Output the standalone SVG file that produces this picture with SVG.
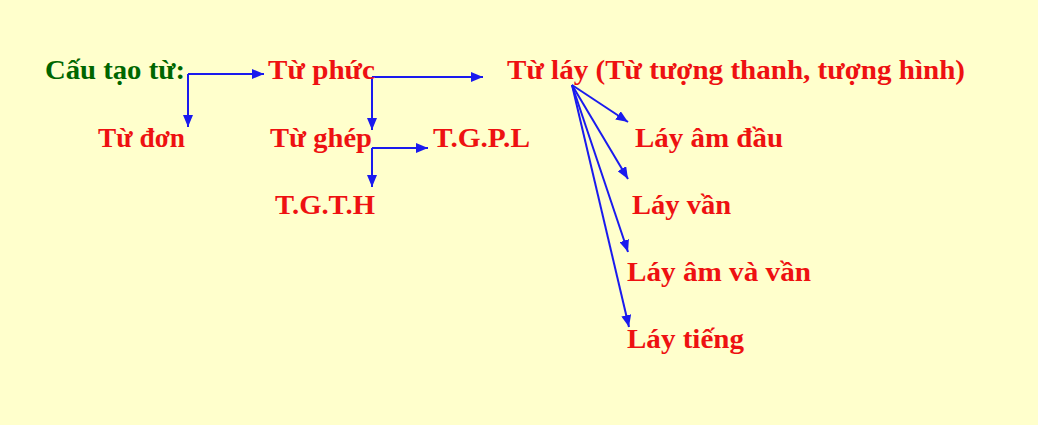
<svg xmlns="http://www.w3.org/2000/svg" width="1038" height="425" viewBox="0 0 1038 425">
<style>
text{font-family:"Liberation Serif","Times New Roman",serif;font-weight:bold;font-size:27px;fill:#ee1111}
.g{fill:#006600}
.c{stroke:#1a1aee;stroke-width:2;fill:none;marker-end:url(#ah)}
</style>
<defs>
<marker id="ah" viewBox="0 0 12 10" refX="12" refY="5" markerWidth="12" markerHeight="10" markerUnits="userSpaceOnUse" orient="auto">
<path d="M0,0 L12,5 L0,10 Z" fill="#1a1aee"/>
</marker>
</defs>
<rect width="1038" height="425" fill="#ffffcc"/>
<g id="connectors">
<path class="c" d="M188,74 H264"/>
<path class="c" d="M188,74 V127"/>
<path class="c" d="M372,77 H483"/>
<path class="c" d="M372,77 V130"/>
<path class="c" d="M372,148 H428"/>
<path class="c" d="M372,148 V187"/>
<path class="c" d="M572,85 L628,122"/>
<path class="c" d="M572,85 L628,179"/>
<path class="c" d="M572,85 L628,252"/>
<path class="c" d="M572,85 L629,327"/>
</g>
<g id="cau-tao-tu"><text class="g" x="45" y="79" textLength="140" lengthAdjust="spacingAndGlyphs">Cấu tạo từ:</text></g>
<g id="tu-phuc"><text x="268" y="79" textLength="107" lengthAdjust="spacingAndGlyphs">Từ phức</text></g>
<g id="tu-lay"><text x="507" y="79" textLength="458" lengthAdjust="spacingAndGlyphs">Từ láy (Từ tượng thanh, tượng hình)</text></g>
<g id="tu-don"><text x="98" y="147" textLength="87" lengthAdjust="spacingAndGlyphs">Từ đơn</text></g>
<g id="tu-ghep"><text x="270" y="147" textLength="102" lengthAdjust="spacingAndGlyphs">Từ ghép</text></g>
<g id="tgpl"><text x="433" y="147" textLength="97" lengthAdjust="spacingAndGlyphs">T.G.P.L</text></g>
<g id="tgth"><text x="275" y="214" textLength="100" lengthAdjust="spacingAndGlyphs">T.G.T.H</text></g>
<g id="lay-am-dau"><text x="635" y="147" textLength="148" lengthAdjust="spacingAndGlyphs">Láy âm đầu</text></g>
<g id="lay-van"><text x="632" y="214" textLength="99" lengthAdjust="spacingAndGlyphs">Láy vần</text></g>
<g id="lay-am-va-van"><text x="627" y="281" textLength="184" lengthAdjust="spacingAndGlyphs">Láy âm và vần</text></g>
<g id="lay-tieng"><text x="627" y="348" textLength="117" lengthAdjust="spacingAndGlyphs">Láy tiếng</text></g>
</svg>
